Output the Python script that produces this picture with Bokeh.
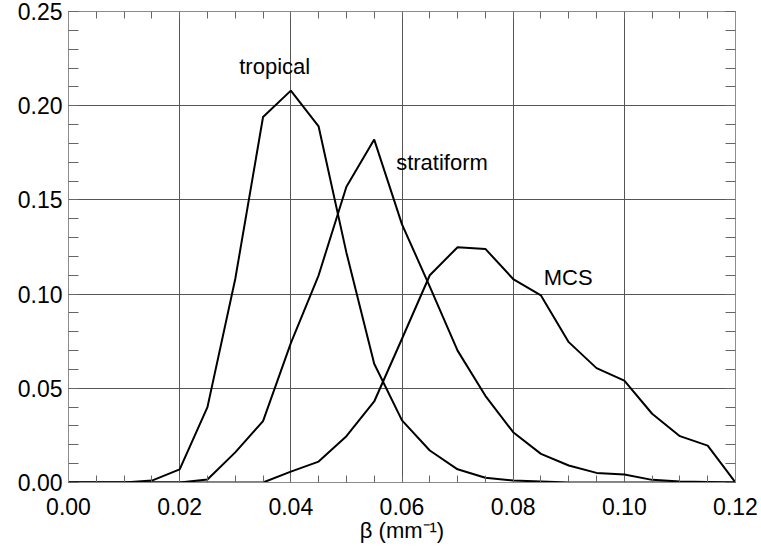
from bokeh.plotting import figure
from bokeh.models import Range1d, SingleIntervalTicker, LinearAxis, NumeralTickFormatter, ColumnDataSource
from bokeh.core.properties import value
from bokeh.embed import file_html
from bokeh.resources import INLINE

# ---- data ----
beta = [0.000, 0.005, 0.010, 0.015, 0.020, 0.025, 0.030, 0.035, 0.040, 0.045,
        0.050, 0.055, 0.060, 0.065, 0.070, 0.075, 0.080, 0.085, 0.090, 0.095,
        0.100, 0.105, 0.110, 0.115, 0.120]
tropical = [0.0, 0.0, 0.0, 0.001, 0.007, 0.040, 0.108, 0.194, 0.208, 0.189,
            0.122, 0.063, 0.033, 0.017, 0.007, 0.0025, 0.001, 0.0005, 0.0, 0.0,
            0.0, 0.0, 0.0, 0.0, 0.0]
stratiform = [0.0, 0.0, 0.0, 0.0, 0.0, 0.0016, 0.016, 0.0326, 0.074, 0.110,
              0.157, 0.182, 0.137, 0.104, 0.070, 0.046, 0.0267, 0.0152, 0.009, 0.0051,
              0.0042, 0.0014, 0.0005, 0.0003, 0.0]
mcs = [0.0, 0.0, 0.0, 0.0, 0.0, 0.0, 0.0, 0.0, 0.0058, 0.0111,
       0.0246, 0.043, 0.0763, 0.110, 0.1249, 0.124, 0.108, 0.0993, 0.0745, 0.0607,
       0.0541, 0.0365, 0.0246, 0.0196, 0.0]

label_text = ["tropical", "stratiform", "MCS"]
label_x = [0.0371, 0.0672, 0.0899]
label_y = [0.2208, 0.1700, 0.1088]

x_label = "\u03b2 (mm\u207b\u00b9)"

FONT = "Liberation Sans"
GRID = "#555555"
FRAME = "#8c8c8c"

p = figure(width=761, height=548,
           x_range=Range1d(0, 0.12), y_range=Range1d(0, 0.25),
           output_backend="svg", toolbar_location=None,
           min_border_left=68, min_border_right=26,
           min_border_top=11, min_border_bottom=66,
           x_axis_label=x_label)
p.background_fill_color = "white"
p.border_fill_color = "white"
p.outline_line_color = FRAME
p.outline_line_width = 1

xt = SingleIntervalTicker(interval=0.02, num_minor_ticks=4)
yt = SingleIntervalTicker(interval=0.05, num_minor_ticks=5)

p.xaxis.ticker = xt
p.yaxis.ticker = yt
p.xaxis.formatter = NumeralTickFormatter(format="0.00")
p.yaxis.formatter = NumeralTickFormatter(format="0.00")

for ax in (p.xaxis[0], p.yaxis[0]):
    ax.major_label_text_font = FONT
    ax.major_label_text_font_size = "23px"
    ax.major_label_text_color = "black"
    ax.axis_line_color = FRAME
    ax.major_tick_in = 0
    ax.major_tick_out = 0
    ax.minor_tick_out = 0
    ax.minor_tick_line_color = "#666666"
    ax.axis_label_text_font = FONT
    ax.axis_label_text_font_style = "normal"
    ax.axis_label_text_font_size = "22px"
    ax.axis_label_text_color = "black"

p.xaxis.minor_tick_in = 7
p.yaxis.minor_tick_in = 10
p.xaxis.major_label_standoff = 15
p.xaxis.axis_label_standoff = 0
p.yaxis.major_label_standoff = 6

# top and right axes: minor ticks only
top = LinearAxis(ticker=SingleIntervalTicker(interval=0.02, num_minor_ticks=4),
                 major_label_text_font_size="1px", major_label_text_alpha=0,
                 major_label_standoff=0, major_tick_in=0, major_tick_out=0,
                 minor_tick_in=7, minor_tick_out=0, minor_tick_line_color="#666666",
                 axis_line_color=FRAME)
right = LinearAxis(ticker=SingleIntervalTicker(interval=0.05, num_minor_ticks=5),
                   major_label_text_font_size="1px", major_label_text_alpha=0,
                   major_label_standoff=0, major_tick_in=0, major_tick_out=0,
                   minor_tick_in=10, minor_tick_out=0, minor_tick_line_color="#666666",
                   axis_line_color=FRAME)
p.add_layout(top, "above")
p.add_layout(right, "right")

p.xgrid.grid_line_color = GRID
p.ygrid.grid_line_color = GRID
p.xgrid.grid_line_width = 1
p.ygrid.grid_line_width = 1

for series in (tropical, stratiform, mcs):
    p.line(beta, series, line_color="black", line_width=2)

src = ColumnDataSource(dict(x=label_x, y=label_y, t=label_text))
p.text(x="x", y="y", text="t", source=src, text_align="center",
       text_baseline="alphabetic", text_font=value(FONT),
       text_font_size="22px", text_color="black")

open("out.html", "w").write(file_html(p, INLINE))
